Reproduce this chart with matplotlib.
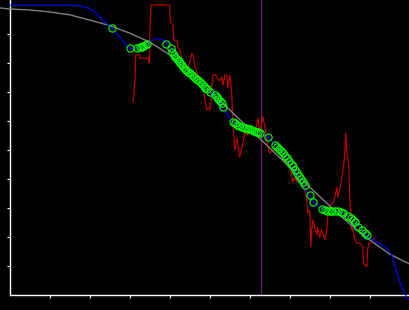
import matplotlib
matplotlib.use("Agg")
import matplotlib.pyplot as plt

# gray reference curve
ref_x = [-0.26, -0.01, 0.49, 0.99, 1.49, 1.99, 2.44, 2.99, 3.49, 3.99, 4.49, 4.87,
         5.49, 5.99, 6.49, 6.99, 7.49, 7.99, 8.49, 8.99, 9.49, 9.99]
ref_y = [9.91, 9.87, 9.84, 9.77, 9.67, 9.49, 9.32, 9.04, 8.73, 8.29, 7.70, 7.18,
         6.39, 5.73, 5.08, 4.42, 3.73, 3.08, 2.46, 1.91, 1.42, 1.08]

# blue fitted curve
fit_x = [0.01, 1.57, 1.74, 1.94, 2.12, 2.24, 2.39, 2.54, 2.74, 2.92, 3.02, 3.14,
         3.29, 3.44, 3.62, 3.74, 3.87, 3.99, 4.12, 4.24, 4.49, 4.74, 4.99, 5.19,
         5.32, 5.44, 5.57, 5.82, 6.17, 6.44, 6.74, 7.07, 7.32, 7.57, 7.82, 8.24,
         8.49, 8.74, 8.94, 9.17, 9.42, 9.54, 9.62, 9.69, 9.77, 9.84, 9.94, 10.02]
fit_y = [10.00, 10.00, 9.98, 9.91, 9.77, 9.60, 9.39, 9.22, 8.91, 8.60, 8.49, 8.53,
         8.56, 8.70, 8.84, 8.84, 8.77, 8.56, 8.36, 8.08, 7.66, 7.35, 7.01, 6.73,
         6.46, 6.22, 5.98, 5.77, 5.63, 5.46, 5.04, 4.46, 3.80, 3.22, 2.98, 2.87,
         2.70, 2.36, 2.01, 1.84, 1.63, 1.39, 1.04, 0.70, 0.36, 0.11, -0.09, -0.20]

# green sample points
pts_x = [2.54, 2.99, 3.17, 3.24, 3.29, 3.32, 3.37, 3.42, 3.89, 4.02, 4.04, 4.09,
         4.12, 4.17, 4.22, 4.24, 4.29, 4.32, 4.37, 4.39, 4.44, 4.49, 4.54, 4.59,
         4.64, 4.69, 4.74, 4.79, 4.84, 4.87, 4.92, 4.99, 5.12, 5.17, 5.19, 5.24,
         5.29, 5.32, 5.57, 5.62, 5.67, 5.72, 5.79, 5.84, 5.89, 5.94, 5.99, 6.04,
         6.09, 6.14, 6.19, 6.24, 6.44, 6.62, 6.67, 6.72, 6.77, 6.82, 6.87, 6.92,
         6.97, 7.02, 7.07, 7.12, 7.17, 7.22, 7.27, 7.32, 7.37, 7.49, 7.57, 7.79,
         7.87, 7.92, 7.99, 8.04, 8.12, 8.19, 8.27, 8.32, 8.44, 8.52, 8.57, 8.62,
         8.69, 8.79, 8.87, 8.92]
pts_y = [9.22, 8.53, 8.53, 8.56, 8.56, 8.60, 8.63, 8.67, 8.67, 8.53, 8.39, 8.29,
         8.22, 8.15, 8.08, 8.01, 7.94, 7.87, 7.80, 7.77, 7.70, 7.66, 7.60, 7.53,
         7.46, 7.42, 7.35, 7.28, 7.22, 7.15, 7.11, 7.01, 6.91, 6.84, 6.77, 6.70,
         6.63, 6.49, 5.98, 5.94, 5.87, 5.83, 5.80, 5.77, 5.77, 5.73, 5.73, 5.70,
         5.66, 5.63, 5.63, 5.60, 5.46, 5.18, 5.11, 5.04, 4.98, 4.91, 4.80, 4.73,
         4.63, 4.53, 4.46, 4.32, 4.22, 4.11, 4.01, 3.91, 3.80, 3.46, 3.22, 2.98,
         2.94, 2.91, 2.91, 2.91, 2.91, 2.91, 2.87, 2.84, 2.73, 2.67, 2.60, 2.53,
         2.36, 2.25, 2.15, 2.08]

# red raw signal
raw_x = [3.07, 3.09, 3.12, 3.14, 3.24, 3.24, 3.47, 3.47, 3.49, 3.49, 3.52, 3.99,
         3.99, 4.02, 4.07, 4.09, 4.17, 4.19, 4.24, 4.29, 4.32, 4.42, 4.49, 4.54,
         4.59, 4.62, 4.67, 4.74, 4.82, 4.87, 4.92, 4.97, 4.99, 5.02, 5.04, 5.07,
         5.14, 5.19, 5.24, 5.29, 5.32, 5.37, 5.42, 5.44, 5.49, 5.54, 5.57, 5.62,
         5.67, 5.69, 5.74, 5.79, 5.82, 5.87, 5.94, 5.99, 6.07, 6.14, 6.19, 6.24,
         6.32, 6.37, 6.42, 6.44, 6.49, 6.57, 6.64, 6.74, 6.82, 6.92, 6.99, 7.04,
         7.07, 7.12, 7.17, 7.19, 7.29, 7.37, 7.42, 7.44, 7.49, 7.52, 7.54, 7.57,
         7.62, 7.67, 7.69, 7.74, 7.79, 7.82, 7.87, 7.92, 7.94, 7.99, 8.07, 8.12,
         8.17, 8.19, 8.24, 8.29, 8.32, 8.37, 8.39, 8.42, 8.47, 8.49, 8.52, 8.54,
         8.57, 8.62, 8.67, 8.74, 8.79, 8.82, 8.84, 8.92, 8.94, 8.97, 9.04, 9.12]
raw_y = [6.66, 6.91, 7.49, 8.29, 8.29, 8.18, 8.18, 8.01, 8.29, 9.04, 10.01, 10.01,
         9.67, 9.39, 9.32, 8.80, 8.80, 8.56, 8.46, 8.18, 7.84, 7.77, 8.04, 8.35,
         8.22, 7.87, 7.70, 7.49, 7.25, 6.73, 6.39, 6.46, 6.39, 6.63, 7.15, 7.60,
         7.60, 7.49, 7.39, 7.53, 7.25, 7.60, 7.56, 7.15, 7.60, 6.98, 5.87, 5.01,
         5.42, 5.25, 4.77, 5.08, 5.25, 5.60, 5.53, 5.70, 5.77, 5.66, 6.11, 5.63,
         6.15, 5.80, 5.36, 5.08, 4.91, 5.01, 5.01, 5.18, 4.94, 4.67, 4.39, 4.15,
         3.91, 4.08, 3.91, 4.04, 3.80, 3.63, 3.29, 2.84, 2.94, 1.67, 2.25, 2.60,
         2.32, 2.08, 2.35, 2.01, 2.25, 2.15, 1.91, 2.25, 2.67, 3.11, 3.18, 3.36,
         3.73, 3.39, 3.63, 4.04, 4.25, 4.91, 5.60, 4.91, 4.42, 3.53, 2.70, 2.25,
         2.32, 1.91, 1.80, 1.80, 1.73, 1.67, 1.11, 0.98, 1.56, 1.80, 1.84, 1.98]

marker_x = 6.28
x_ticks = [1, 2, 3, 4, 5, 6, 7, 8, 9]
y_ticks = [1, 2, 3, 4, 5, 6, 7, 8, 9]

fig = plt.figure(figsize=(4.1, 3.1), dpi=100, facecolor='black')
ax = fig.add_axes([0, 0, 1, 1])
ax.set_facecolor('black')

ax.plot(raw_x, raw_y, color='#cc0000', lw=0.8, zorder=2)
ax.plot(ref_x, ref_y, color='#808080', lw=1.0, zorder=3)
ax.plot(fit_x, fit_y, color='#0000ff', lw=0.8, zorder=4)
ax.plot(pts_x, pts_y, 'o', mfc='none', mec='#00ff00', ms=5.2, mew=0.8, zorder=5)
ax.vlines(marker_x, 0, 10.3, color='#6e1a6e', lw=0.9, zorder=1)

ax.set_xlim(-0.2575, 10.0)
ax.set_ylim(-0.507, 10.183)
ax.set_xticks(x_ticks)
ax.set_yticks(y_ticks)
ax.tick_params(colors='white', direction='out', length=2.3, width=0.8,
               labelbottom=False, labelleft=False)

ax.spines['top'].set_visible(False)
ax.spines['right'].set_visible(False)
for s in ['left', 'bottom']:
    ax.spines[s].set_position(('data', 0))
    ax.spines[s].set_color('white')
    ax.spines[s].set_linewidth(1.0)
ax.spines['left'].set_bounds(0, 10.3)
ax.spines['bottom'].set_bounds(0, 10.1)

fig.savefig('out.png', dpi=100, facecolor='black')
